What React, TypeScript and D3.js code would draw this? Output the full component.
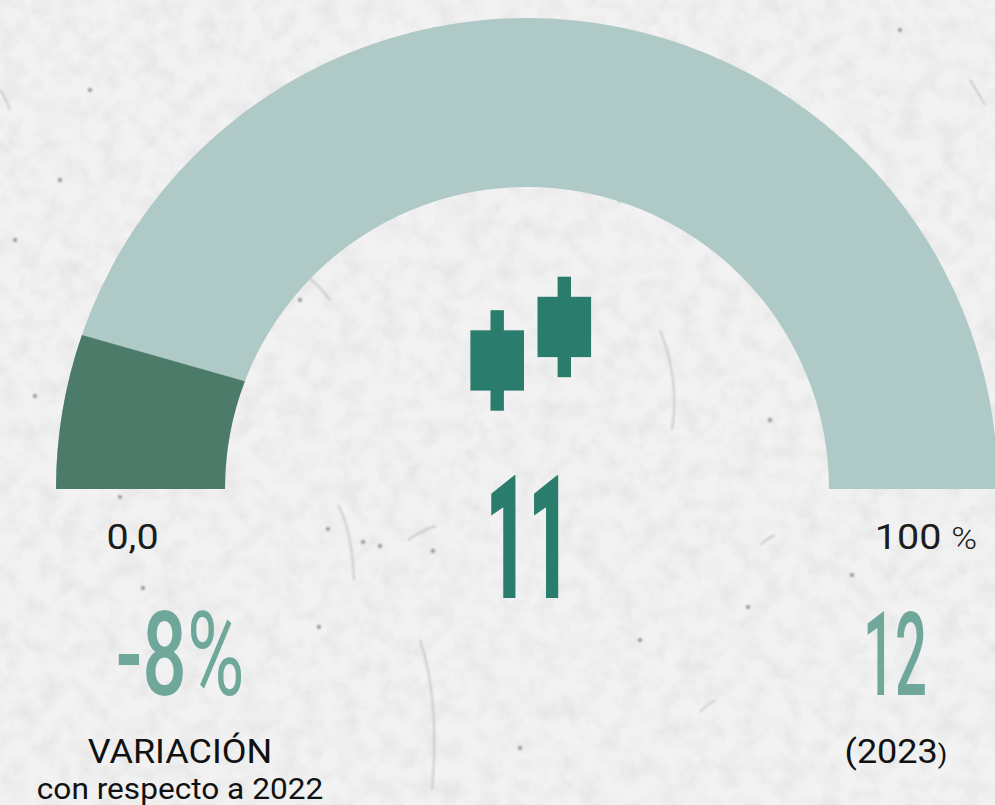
import React from 'react';
import * as d3 from 'd3';

const W = 995;
const H = 805;

// gauge readings, in percent of the half circle
const gaugeDomain = [0, 100];
const darkOuterEdge = 10.6;
const darkInnerEdge = 11.6;

// candlestick icon, in icon units
const candleSlots = [0, 10];
const candleLows = [0, 5];
const candleOpens = [3, 8];
const candleCloses = [12, 17];
const candleHighs = [15, 20];

// paper texture: dirt and fibres seen on the background
const speckPoints = [
  [328, 529], [363, 542], [380, 546], [433, 551], [319, 627], [120, 497], [35, 396],
  [226, 385], [852, 575], [748, 607], [15, 240], [143, 588], [90, 90], [520, 748],
  [900, 30], [640, 640], [960, 470], [300, 300], [620, 200], [770, 420], [60, 180],
];
const fibres = [
  'M408 540Q422 530 436 526',
  'M970 80Q978 92 985 105',
  'M700 712Q708 704 715 700',
  'M760 545Q768 538 775 535',
  'M338 505Q352 530 354 580',
  'M0 90Q6 98 10 110',
  'M660 330Q680 380 672 430',
  'M420 640Q440 700 432 790',
  'M250 250Q300 260 330 300',
];

const COLORS = {
  light: '#afc9c7',
  dark: '#4c7b69',
  main: '#2a7d6c',
  soft: '#6fa89a',
  ink: '#1c1c1c',
};

const cx = 527;
const cy = 489;
const outerR = 471;
const innerR = 302;

const angle = d3.scaleLinear().domain(gaugeDomain).range([-Math.PI / 2, Math.PI / 2]);

const background = d3.arc()({
  innerRadius: innerR,
  outerRadius: outerR,
  startAngle: angle(0),
  endAngle: angle(100),
}) as string;

// the dark part's upper edge is not radial, so the two arcs end at different angles
const darkPath = () => {
  const p = d3.path();
  const a0 = Math.PI;
  const aOut = Math.PI + (angle(darkOuterEdge) + Math.PI / 2);
  const aIn = Math.PI + (angle(darkInnerEdge) + Math.PI / 2);
  p.moveTo(Math.cos(a0) * outerR, Math.sin(a0) * outerR);
  p.arc(0, 0, outerR, a0, aOut, false);
  p.lineTo(Math.cos(aIn) * innerR, Math.sin(aIn) * innerR);
  p.arc(0, 0, innerR, aIn, a0, true);
  p.closePath();
  return p.toString();
};

const unit = 6.7;
const candleX = d3.scaleLinear().domain([0, 10]).range([497.2, 564.3]);
const candleY = d3.scaleLinear().domain([0, 20]).range([410.7, 276.7]);

const sans = 'Roboto, sans-serif';

const Scaled = ({ x, y, size, sx = 1, weight = 400, fill, children }: any) => (
  <text
    transform={`translate(${x},${y}) scale(${sx},1)`}
    textAnchor="middle"
    fontFamily={sans}
    fontSize={size}
    fontWeight={weight}
    fill={fill}
  >
    {children}
  </text>
);

const App = () => (
  <svg
    width={W}
    height={H}
    viewBox={`0 0 ${W} ${H}`}
    style={{ position: 'absolute', left: 0, top: 0, display: 'block' }}
  >
    <defs>
      <filter id="paper" x="0" y="0" width="100%" height="100%">
        <feTurbulence type="fractalNoise" baseFrequency="0.05" numOctaves="4" seed="7" />
        <feColorMatrix
          type="matrix"
          values="0 0 0 0 0.5  0 0 0 0 0.5  0 0 0 0 0.5  1.2 0 0 0 -0.45"
        />
      </filter>
      <filter id="soften">
        <feGaussianBlur stdDeviation="0.8" />
      </filter>
    </defs>
    <rect width={W} height={H} fill="#f2f2f2" />
    <rect width={W} height={H} filter="url(#paper)" opacity={0.35} />
    <g filter="url(#soften)">
      {fibres.map((d) => (
        <path key={d} d={d} fill="none" stroke="#bdbdbd" strokeWidth={1.4} />
      ))}
      {speckPoints.map(([x, y]) => (
        <circle key={`${x}-${y}`} cx={x} cy={y} r={2} fill="#8d8d8d" />
      ))}
    </g>

    <g transform={`translate(${cx},${cy})`}>
      <path d={background} fill={COLORS.light} />
      <path d={darkPath()} fill={COLORS.dark} />
    </g>

    {candleSlots.map((s, i) => (
      <g key={s} fill={COLORS.main}>
        <rect
          x={candleX(s) - unit}
          width={unit * 2}
          y={candleY(candleHighs[i])}
          height={candleY(candleLows[i]) - candleY(candleHighs[i])}
        />
        <rect
          x={candleX(s) - unit * 4}
          width={unit * 8}
          y={candleY(candleCloses[i])}
          height={candleY(candleOpens[i]) - candleY(candleCloses[i])}
        />
      </g>
    ))}

    <Scaled x={528} y={598} size={172} sx={0.43} weight={900} fill={COLORS.main}>11</Scaled>
    <Scaled x={180} y={695} size={117} sx={0.67} weight={500} fill={COLORS.soft}>
      -8<tspan fontWeight={400}>%</tspan>
    </Scaled>
    <Scaled x={895} y={695} size={117} sx={0.48} weight={500} fill={COLORS.soft}>12</Scaled>

    <Scaled x={132.5} y={549} size={35} sx={1.13} fill={COLORS.ink}>0,0</Scaled>
    <Scaled x={926} y={549} size={35} sx={1.13} fill={COLORS.ink}>
      100 <tspan fontSize={31} fontWeight={300}>%</tspan>
    </Scaled>
    <Scaled x={180} y={763} size={34} sx={1.06} fill="#111">VARIACIÓN</Scaled>
    <Scaled x={180} y={799} size={29} sx={1.09} fill="#111">con respecto a 2022</Scaled>
    <Scaled x={896} y={763} size={34} sx={1.06} fill="#111">
      (2023<tspan fontSize={26}>)</tspan>
    </Scaled>
  </svg>
);

export default App;
